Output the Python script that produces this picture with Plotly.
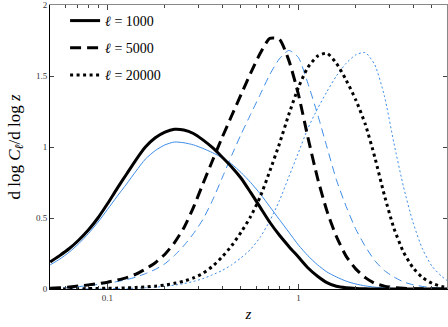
import plotly.graph_objects as go

# redshift grid (roughly even in log z)
z = [0.0501, 0.0562, 0.0631, 0.0708, 0.0794, 0.0891, 0.1, 0.112, 0.126, 0.141, 0.158, 0.178,
     0.2, 0.224, 0.251, 0.282, 0.316, 0.355, 0.398, 0.447, 0.501, 0.562, 0.631, 0.708, 0.794,
     0.891, 1.0, 1.12, 1.26, 1.41, 1.58, 1.78, 2.0, 2.24, 2.51, 2.82, 3.16, 3.55, 3.98, 4.47,
     5.01, 5.62, 6.0]

# thick black curves
l1000_black = [0.19, 0.235, 0.285, 0.345, 0.415, 0.50, 0.60, 0.705, 0.81, 0.91, 1.0, 1.065,
               1.105, 1.125, 1.12, 1.095, 1.05, 0.995, 0.93, 0.86, 0.78, 0.68, 0.575, 0.47, 0.38,
               0.30, 0.225, 0.15, 0.09, 0.045, 0.019, 0.008, 0.003, 0.001, 0.0, 0.0, 0.0, 0.0, 0.0, 0.0,
               0.0, 0.0, 0.0]
l5000_black = [0.005, 0.009, 0.014, 0.021, 0.029, 0.038, 0.048, 0.062, 0.08, 0.105, 0.14, 0.185,
               0.245, 0.325, 0.43, 0.575, 0.74, 0.905, 1.065, 1.22, 1.37, 1.52, 1.66, 1.765, 1.76,
               1.61, 1.37, 1.07, 0.78, 0.55, 0.37, 0.23, 0.14, 0.08, 0.04, 0.02, 0.01, 0.005, 0.002, 0.001,
               0.0, 0.0, 0.0]
l20000_black = [0.0, 0.0, 0.001, 0.002, 0.003, 0.004, 0.005, 0.006, 0.008, 0.011, 0.015, 0.02,
                0.028, 0.04, 0.055, 0.078, 0.11, 0.16, 0.225, 0.305, 0.40, 0.51, 0.65, 0.83, 1.02,
                1.23, 1.42, 1.56, 1.64, 1.66, 1.59, 1.47, 1.33, 1.16, 0.93, 0.66, 0.43, 0.26, 0.15, 0.08,
                0.04, 0.018, 0.012]

# thin blue curves
l1000_blue = [0.17, 0.21, 0.26, 0.32, 0.39, 0.47, 0.56, 0.65, 0.74, 0.83, 0.915, 0.975,
              1.015, 1.035, 1.03, 1.015, 0.99, 0.96, 0.925, 0.88, 0.82, 0.75, 0.67, 0.58, 0.49,
              0.40, 0.31, 0.235, 0.17, 0.12, 0.085, 0.055, 0.035, 0.022, 0.013, 0.008, 0.004, 0.002, 0.001, 0.0,
              0.0, 0.0, 0.0]
l5000_blue = [0.003, 0.006, 0.011, 0.017, 0.024, 0.032, 0.041, 0.052, 0.066, 0.084, 0.108, 0.138,
              0.178, 0.235, 0.305, 0.39, 0.49, 0.625, 0.78, 0.94, 1.09, 1.23, 1.37, 1.51, 1.62,
              1.68, 1.63, 1.45, 1.23, 1.0, 0.77, 0.58, 0.42, 0.30, 0.20, 0.13, 0.085, 0.05, 0.03, 0.018,
              0.01, 0.006, 0.004]
l20000_blue = [0.0, 0.0, 0.0, 0.0, 0.001, 0.001, 0.002, 0.003, 0.004, 0.006, 0.009, 0.013,
               0.019, 0.027, 0.038, 0.053, 0.073, 0.1, 0.13, 0.17, 0.22, 0.28, 0.365, 0.48, 0.62,
               0.79, 0.96, 1.13, 1.27, 1.39, 1.5, 1.59, 1.65, 1.665, 1.58, 1.36, 1.03, 0.72, 0.47, 0.28,
               0.16, 0.09, 0.06]

labels = ['1000', '5000', '20000']
blue = 'rgb(60,140,232)'
serif = 'Liberation Serif'

fig = go.Figure()

black_sets = [(l1000_black, 'solid'), (l5000_black, '11px,6px'), (l20000_black, '3px,3.5px')]
blue_sets = [(l1000_blue, 'solid'), (l5000_blue, '8px,5px'), (l20000_blue, '2px,2.5px')]

for (vals, dash), lab in zip(blue_sets, labels):
    fig.add_trace(go.Scatter(x=z, y=vals, mode='lines', showlegend=False, hoverinfo='skip',
                             line=dict(color=blue, width=1, dash=dash, shape='spline', smoothing=0.6)))

for i, ((vals, dash), lab) in enumerate(zip(black_sets, labels)):
    fig.add_trace(go.Scatter(x=z, y=vals, mode='lines', name='<i>ℓ</i> = ' + lab,
                             legendgroup='g%d' % i,
                             line=dict(color='black', width=3, dash=dash, shape='spline', smoothing=0.6)))

# gray top / right frame
fig.add_trace(go.Scatter(x=[0.05], y=[0], xaxis='x2', yaxis='y2', mode='markers',
                         marker=dict(opacity=0), showlegend=False, hoverinfo='skip'))

xticks_minor = [0.05, 0.06, 0.07, 0.08, 0.09, 0.2, 0.3, 0.4, 0.5, 0.6, 0.7, 0.8, 0.9, 2, 3, 4, 5, 6]

common_x = dict(type='log', range=[-1.30103, 0.778151], showgrid=False, zeroline=False,
                tickvals=[0.1, 1], ticks='inside', ticklen=5, tickwidth=1,
                minor=dict(tickvals=xticks_minor, ticks='inside', ticklen=3, tickwidth=1, tickcolor='#444'))
common_y = dict(range=[0, 2], showgrid=False, zeroline=False, tickvals=[0, 0.5, 1, 1.5, 2],
                ticks='inside', ticklen=4, tickwidth=1)

fig.update_layout(
    width=448, height=327,
    margin=dict(l=50, r=1, t=5, b=38),
    plot_bgcolor='white', paper_bgcolor='white',
    font=dict(family=serif, color='black', size=9),
    xaxis=dict(**common_x, showline=True, linecolor='black', linewidth=1, tickcolor='#444',
               ticktext=['0.1', '1'], tickfont=dict(size=9, color='#333'),
               title=dict(text='<i>z</i>', font=dict(size=15, family=serif), standoff=6)),
    yaxis=dict(**common_y, showline=True, linecolor='black', linewidth=1, tickcolor='#444',
               ticktext=['0', '0.5', '1', '1.5', '2'], tickfont=dict(size=9, color='#333'),
               title=dict(text='d log <i>C</i><sub><i>ℓ</i></sub>/d log <i>z</i>',
                          font=dict(size=17, family=serif), standoff=11)),
    xaxis2=dict(**common_x, overlaying='x', side='top', anchor='y2', showticklabels=False,
                showline=True, linecolor='#888', linewidth=1, tickcolor='#444'),
    yaxis2=dict(**common_y, overlaying='y', side='right', anchor='x2', showticklabels=False,
                showline=True, linecolor='#888', linewidth=1, tickcolor='#444'),
    legend=dict(x=0.038, y=1.0, xanchor='left', yanchor='top', bgcolor='rgba(0,0,0,0)',
                font=dict(size=14, family=serif), tracegroupgap=6),
    showlegend=True,
)

fig.write_html('out.html', config={'displayModeBar': False},
               post_script="document.body.style.margin='0';")
